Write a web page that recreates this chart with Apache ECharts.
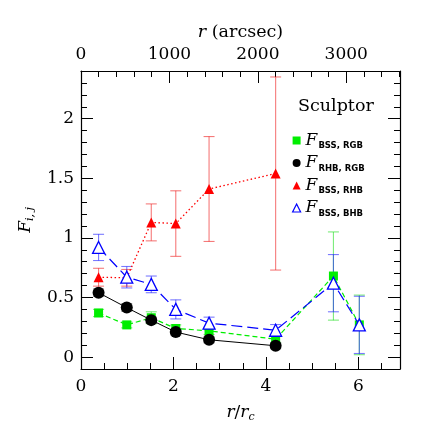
<!DOCTYPE html>
<html>
<head>
<meta charset="utf-8">
<script src="https://cdn.jsdelivr.net/npm/echarts@6/dist/echarts.min.js"></script>
<style>
html,body{margin:0;padding:0;background:#fff;}
#box{width:436px;height:436px;}
</style>
</head>
<body>
<div id="box"></div>
<script>
// r / r_c of each radial bin
var rr = [0.38, 0.99, 1.52, 2.05, 2.77, 4.21, 5.46, 6.02];
// F_BSS,RGB
var bssRgb = [0.37, 0.27, 0.33, 0.24, 0.22, 0.15, 0.68, 0.27];
var bssRgbErr = [0.03, 0.025, 0.05, 0.03, 0.03, 0.03, 0.37, 0.25];
// F_RHB,RGB
var rhbRgb = [0.54, 0.415, 0.31, 0.21, 0.145, 0.095];
var rhbRgbErr = [0.03, 0.03, 0.025, 0.025, 0.025, 0.025];
// F_BSS,RHB
var bssRhb = [0.67, 0.665, 1.13, 1.12, 1.41, 1.54];
var bssRhbErr = [0.075, 0.07, 0.155, 0.275, 0.44, 0.81];
// F_BSS,BHB
var bssBhb = [0.92, 0.67, 0.61, 0.40, 0.285, 0.225, 0.62, 0.27];
var bssBhbErr = [0.11, 0.09, 0.07, 0.08, 0.05, 0.048, 0.24, 0.24];

var xTicks = [0, 2, 4, 6];
var topTicks = [0, 1000, 2000, 3000];
var yTicks = [0, 0.5, 1, 1.5, 2];

var FONT = 'DejaVu Serif';

function pairs(v){
	var out = [];
	for(var i=0;i<v.length;i++) out.push([rr[i], v[i]]);
	return out;
}
function errData(v, e){
	var out = [];
	for(var i=0;i<v.length;i++) out.push([rr[i], v[i], e[i]]);
	return out;
}
function errSeries(v, e, color){
	return {
		type: 'custom',
		xAxisIndex: 0, yAxisIndex: 0,
		data: errData(v, e),
		z: 1,
		silent: true,
		renderItem: function(params, api){
			var x = api.value(0), y = api.value(1), d = api.value(2);
			var hi = api.coord([x, y + d]);
			var lo = api.coord([x, y - d]);
			var w = 5.5;
			var st = {stroke: color, lineWidth: 1.1, opacity: 0.6};
			return {type: 'group', children: [
				{type: 'line', shape: {x1: hi[0], y1: hi[1], x2: lo[0], y2: lo[1]}, style: st},
				{type: 'line', shape: {x1: hi[0]-w, y1: hi[1], x2: hi[0]+w, y2: hi[1]}, style: st},
				{type: 'line', shape: {x1: lo[0]-w, y1: lo[1], x2: lo[0]+w, y2: lo[1]}, style: st}
			]};
		}
	};
}

var sub = {
	f: {fontFamily: FONT, fontStyle: 'italic', fontSize: 17, color: '#000', lineHeight: 20},
	s: {fontFamily: 'DejaVu Sans', fontWeight: 'bold', fontSize: 8.5, color: '#000', verticalAlign: 'bottom', padding: [0,0,0,1], lineHeight: 14}
};

var noLine = {show: false, onZero: false};
var frame = {show: true, onZero: false, lineStyle: {color: '#000', width: 1.2}};
var plain = function(v){ return String(v); };

var chart = echarts.init(document.getElementById('box'));
var option = {
	animation: false,
	backgroundColor: '#fff',
	grid: {left: 81, right: 36, top: 71, bottom: 67},
	title: {
		text: 'Sculptor', left: 293, top: 92,
		textStyle: {fontFamily: FONT, fontSize: 17.5, fontWeight: 'normal', color: '#000'}
	},
	legend: {
		orient: 'vertical', left: 287, top: 127,
		itemWidth: 8, itemHeight: 8, itemGap: 4,
		data: [
			{name: 'BSS, RGB', icon: 'rect'},
			{name: 'RHB, RGB', icon: 'circle'},
			{name: 'BSS, RHB', icon: 'triangle'},
			{name: 'BSS, BHB', icon: 'triangle', itemStyle: {color: '#fff', borderColor: '#0000ff', borderWidth: 1.2}}
		],
		formatter: function(n){ return '{f|F}{s|' + n + '}'; },
		textStyle: {rich: sub}
	},
	xAxis: [
		{
			type: 'value', position: 'bottom', min: 0, max: 6.9,
			axisLine: frame,
			axisTick: {inside: true, length: 12, customValues: xTicks, lineStyle: {color: '#000'}},
			axisLabel: {customValues: xTicks, formatter: plain, margin: 9, fontFamily: FONT, fontSize: 17, color: '#000'},
			splitLine: {show: false},
			name: '{i|r}{n|/}{i|r}{c|c}', nameLocation: 'middle', nameGap: 34,
			nameTextStyle: {rich: {
				i: {fontFamily: FONT, fontStyle: 'italic', fontSize: 17, color: '#000', lineHeight: 20},
				n: {fontFamily: FONT, fontSize: 17, color: '#000', lineHeight: 20},
				c: {fontFamily: FONT, fontStyle: 'italic', fontSize: 11, color: '#000', verticalAlign: 'bottom', lineHeight: 14}
			}}
		},
		{
			type: 'value', position: 'bottom', min: 0, max: 6.9, interval: 0.5,
			axisLine: noLine, axisLabel: {show: false}, splitLine: {show: false},
			axisTick: {inside: true, length: 6, lineStyle: {color: '#000'}}
		},
		{
			type: 'value', position: 'top', min: 0, max: 3608,
			axisLine: frame,
			axisTick: {inside: true, length: 12, customValues: topTicks, lineStyle: {color: '#000'}},
			axisLabel: {customValues: topTicks, formatter: plain, margin: 8, fontFamily: FONT, fontSize: 17, color: '#000'},
			splitLine: {show: false},
			name: '{i|r}{n| (arcsec)}', nameLocation: 'middle', nameGap: 30,
			nameTextStyle: {rich: {
				i: {fontFamily: FONT, fontStyle: 'italic', fontSize: 17.5, color: '#000'},
				n: {fontFamily: FONT, fontSize: 17.5, color: '#000'}
			}}
		},
		{
			type: 'value', position: 'top', min: 0, max: 3608, interval: 200,
			axisLine: noLine, axisLabel: {show: false}, splitLine: {show: false},
			axisTick: {inside: true, length: 6, lineStyle: {color: '#000'}}
		}
	],
	yAxis: [
		{
			type: 'value', position: 'left', min: -0.1, max: 2.4,
			axisLine: frame,
			axisTick: {inside: true, length: 12, customValues: yTicks, lineStyle: {color: '#000'}},
			axisLabel: {customValues: yTicks, formatter: plain, margin: 7, fontFamily: FONT, fontSize: 17, color: '#000'},
			splitLine: {show: false},
			name: '{f|F}{s|i, j}', nameLocation: 'middle', nameGap: 40, nameRotate: 90,
			nameTextStyle: {rich: {
				f: {fontFamily: FONT, fontStyle: 'italic', fontSize: 17, color: '#000', lineHeight: 20},
				s: {fontFamily: FONT, fontStyle: 'italic', fontSize: 11, color: '#000', verticalAlign: 'bottom', lineHeight: 14}
			}}
		},
		{
			type: 'value', position: 'left', min: -0.1, max: 2.4, interval: 0.1,
			axisLine: noLine, axisLabel: {show: false}, splitLine: {show: false},
			axisTick: {inside: true, length: 6, lineStyle: {color: '#000'}}
		},
		{
			type: 'value', position: 'right', min: -0.1, max: 2.4,
			axisLine: frame,
			axisTick: {inside: true, length: 12, customValues: yTicks, lineStyle: {color: '#000'}},
			axisLabel: {show: false}, splitLine: {show: false}
		},
		{
			type: 'value', position: 'right', min: -0.1, max: 2.4, interval: 0.1,
			axisLine: noLine, axisLabel: {show: false}, splitLine: {show: false},
			axisTick: {inside: true, length: 6, lineStyle: {color: '#000'}}
		}
	],
	series: [
		errSeries(bssRgb, bssRgbErr, '#22dd22'),
		errSeries(rhbRgb, rhbRgbErr, '#333333'),
		errSeries(bssRhb, bssRhbErr, '#ee2222'),
		errSeries(bssBhb, bssBhbErr, '#2222ff'),
		{
			name: 'BSS, RGB', type: 'line', data: pairs(bssRgb), z: 3,
			symbol: 'rect', symbolSize: 9,
			itemStyle: {color: '#00ee00'},
			lineStyle: {color: '#00ee00', width: 1.2, type: [5, 3]}
		},
		{
			name: 'RHB, RGB', type: 'line', data: pairs(rhbRgb), z: 4,
			symbol: 'circle', symbolSize: 12,
			itemStyle: {color: '#000'},
			lineStyle: {color: '#000', width: 1}
		},
		{
			name: 'BSS, RHB', type: 'line', data: pairs(bssRhb), z: 3,
			symbol: 'triangle', symbolSize: 10,
			itemStyle: {color: '#ff0000'},
			lineStyle: {color: '#ff0000', width: 1.3, type: [1.5, 2.5]}
		},
		{
			name: 'BSS, BHB', type: 'line', data: pairs(bssBhb), z: 5,
			symbol: 'triangle', symbolSize: 12,
			itemStyle: {color: '#fff', borderColor: '#0000ff', borderWidth: 1.3},
			lineStyle: {color: '#0000ff', width: 1.2, type: [11, 5]}
		}
	]
};
chart.setOption(option);
</script>
</body>
</html>
